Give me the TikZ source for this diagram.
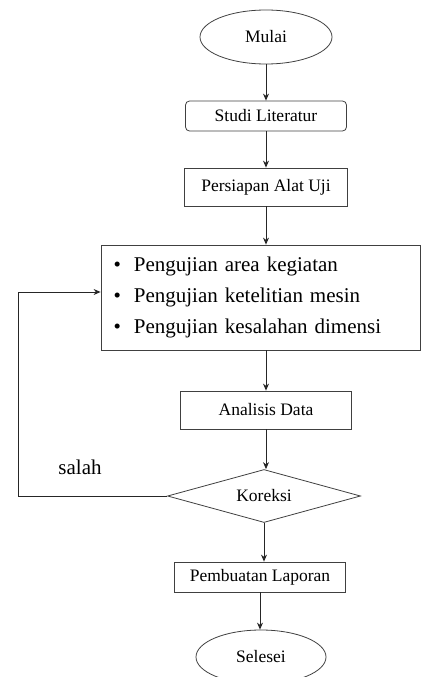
\documentclass[tikz,border=0pt]{standalone}
\usepackage{fontspec}
\setmainfont{Liberation Serif}
\usetikzlibrary{shapes.geometric,arrows.meta}

\begin{document}
\begin{tikzpicture}[
  x=1pt, y=-1pt,
  font=\fontsize{17.5}{21}\selectfont,
  flow/.style={-{Stealth[length=7pt,width=6pt]}, line width=0.9pt, black!85},
  line/.style={line width=0.9pt, black!85},
  terminal/.style={ellipse, draw=black!75, line width=0.8pt, inner sep=0pt},
  process/.style={draw=black!75, line width=0.8pt, inner sep=0pt},
  decision/.style={diamond, draw=black!75, line width=0.8pt, inner sep=0pt, aspect=3.6},
  label/.style={font=\fontsize{21}{25}\selectfont}
]
\useasboundingbox (0,0) rectangle (421,677);

\node[terminal, minimum width=132pt, minimum height=54pt] (mulai) at (266,37) {Mulai};
\node[process, rounded corners=4pt, minimum width=161pt, minimum height=30pt] (studi) at (266,116) {Studi Literatur};
\node[process, minimum width=163pt, minimum height=38pt] (persiapan) at (266,187) {Persiapan Alat Uji};
\node[process, minimum width=319pt, minimum height=105pt, align=left, text width=294pt,
      inner xsep=12.5pt, font=\fontsize{21}{31}\selectfont] (pengujian) at (260.5,297.5)
  {\textbullet\hspace{13pt}Pengujian area kegiatan\\
   \textbullet\hspace{13pt}Pengujian ketelitian mesin\\
   \textbullet\hspace{13pt}Pengujian kesalahan dimensi};
\node[process, minimum width=171pt, minimum height=38pt] (analisis) at (266,410) {Analisis Data};
\node[decision, minimum width=193pt, minimum height=53pt] (koreksi) at (264,496) {Koreksi};
\node[process, minimum width=171pt, minimum height=30pt] (laporan) at (260,577) {Pembuatan Laporan};
\node[terminal, minimum width=130pt, minimum height=54pt] (selesai) at (261,657) {Selesei};

\node[label] (salah) at (80,467) {salah};
\coordinate (balik) at (18,292);

\draw[flow] (mulai) -- (studi);
\draw[flow] (studi) -- (persiapan);
\draw[flow] (persiapan) -- (persiapan |- pengujian.north);
\draw[flow] (pengujian.south -| analisis) -- (analisis);
\draw[flow] (analisis) -- (analisis |- koreksi.north);
\draw[flow] (koreksi.south) -- (koreksi.south |- laporan.north);
\draw[flow] (laporan) -- (laporan |- selesai.north);
\draw[flow] (koreksi.west) -| (balik) -- (balik -| pengujian.west);

\end{tikzpicture}
\end{document}
